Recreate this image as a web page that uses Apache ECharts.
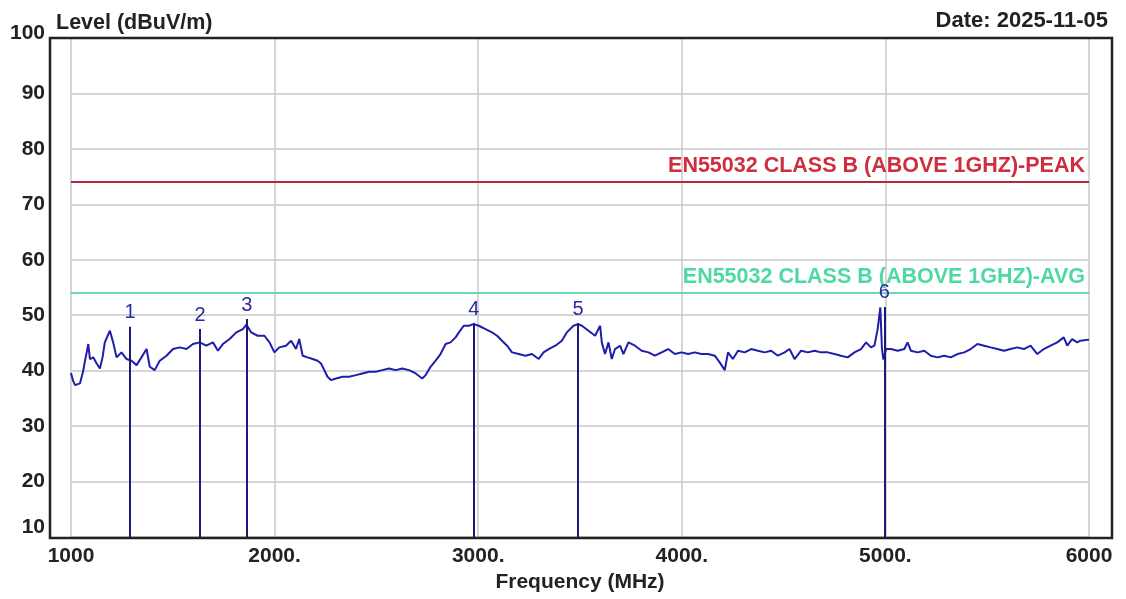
<!DOCTYPE html>
<html>
<head>
<meta charset="utf-8">
<script src="https://cdn.jsdelivr.net/npm/echarts@6/dist/echarts.min.js"></script>
<style>
html,body{margin:0;padding:0;background:#fff;}
#chart{width:1126px;height:599px;}
</style>
</head>
<body>
<div id="chart"></div>
<script>
// ---------- data ----------
const freqMHz = [1000,1010,1020,1044,1059,1069,1085,1093,1109,1126,1142,1155,1166,1191,1207,1224,1248,1273,1297,1322,1346,1371,1387,1411,1436,1469,1501,1534,1567,1599,1632,1665,1697,1722,1746,1779,1812,1844,1862,1885,1917,1950,1975,1999,2023,2056,2081,2105,2121,2138,2162,2187,2211,2228,2244,2260,2277,2301,2334,2366,2399,2431,2464,2497,2529,2562,2595,2627,2660,2693,2725,2742,2766,2791,2815,2840,2864,2889,2905,2929,2954,2978,3003,3036,3068,3093,3117,3142,3166,3199,3232,3264,3297,3321,3346,3379,3411,3435,3468,3490,3509,3542,3574,3599,3607,3623,3640,3656,3672,3697,3713,3738,3770,3803,3836,3868,3901,3933,3966,3999,4031,4064,4096,4129,4162,4186,4211,4227,4251,4276,4309,4341,4374,4407,4439,4472,4505,4529,4554,4586,4619,4652,4684,4717,4750,4782,4815,4848,4880,4905,4929,4946,4962,4975,4983,4990,5003,5027,5060,5093,5109,5125,5158,5191,5223,5256,5289,5321,5354,5387,5419,5452,5485,5517,5550,5582,5615,5648,5680,5713,5746,5778,5811,5844,5876,5893,5917,5942,5958,6000];
const levelDb = [39.6,38.2,37.4,37.7,39.8,41.8,44.8,42.1,42.4,41.3,40.4,42.4,45.1,47.2,45.1,42.4,43.3,42.1,41.8,41.0,42.4,43.9,40.7,40.1,41.8,42.7,43.9,44.2,43.9,44.8,45.1,44.5,45.1,43.6,44.8,45.7,46.9,47.5,48.3,46.9,46.3,46.3,45.1,43.3,44.2,44.5,45.4,43.9,45.7,42.7,42.4,42.1,41.8,41.3,40.1,38.9,38.3,38.6,38.9,38.9,39.2,39.5,39.8,39.8,40.1,40.4,40.1,40.4,40.1,39.5,38.6,39.2,40.7,41.8,43.0,44.8,45.1,46.0,46.9,48.1,48.1,48.4,48.1,47.5,46.9,46.3,45.4,44.5,43.3,43.0,42.7,43.0,42.1,43.3,43.9,44.5,45.4,46.9,48.1,48.4,48.1,47.2,46.3,48.1,45.1,43.0,45.1,42.1,43.9,44.5,43.0,45.1,44.5,43.6,43.3,42.7,43.3,43.9,43.0,43.3,43.0,43.3,43.0,43.0,42.7,41.5,40.1,43.3,42.1,43.6,43.3,43.9,43.6,43.3,43.6,42.7,43.3,43.9,42.1,43.6,43.3,43.6,43.3,43.3,43.0,42.7,42.4,43.3,43.9,45.1,44.2,44.5,47.5,51.4,44.0,42.0,43.9,43.9,43.6,43.9,45.1,43.6,43.3,43.6,42.7,42.4,42.7,42.4,43.0,43.3,43.9,44.8,44.5,44.2,43.9,43.6,43.9,44.2,43.9,44.5,43.0,43.9,44.5,45.1,46.0,44.5,45.7,45.1,45.4,45.6];

const markerFreq = [1290, 1634, 1864, 2979, 3490, 4995];
const markerLevel = [47.9, 47.5, 49.3, 48.6, 48.6, 51.5];
const markerNames = ['1', '2', '3', '4', '5', '6'];

const limitLevels = [74, 54];
const limitNames = ['EN55032 CLASS B (ABOVE 1GHZ)-PEAK', 'EN55032 CLASS B (ABOVE 1GHZ)-AVG'];
const limitLineColors = ['#b3283a', '#6ad9b3'];
const limitTextColors = ['#cf2e3e', '#4fd9a2'];

const xTickValues = [1000, 2000, 3000, 4000, 5000, 6000];
const xTickLabels = ['1000', '2000.', '3000.', '4000.', '5000.', '6000'];
const yTickValues = [10, 20, 30, 40, 50, 60, 70, 80, 90, 100];
const yTickLabels = ['10', '20', '30', '40', '50', '60', '70', '80', '90', '100'];

const yTitle = 'Level (dBuV/m)';
const xTitle = 'Frequency (MHz)';
const dateText = 'Date: 2025-11-05';

// ---------- chart ----------
const FONT = "'Liberation Sans', Arial, sans-serif";
const chart = echarts.init(document.getElementById('chart'), null, {renderer: 'canvas'});

const trace = freqMHz.map((f, i) => [f, levelDb[i]]);

const markerLines = markerFreq.map((f, i) => [
  {coord: [f, 10], symbol: 'none'},
  {coord: [f, markerLevel[i]], symbol: 'none', name: markerNames[i]}
]);

const limitMarks = limitLevels.map((v, i) => ({
  yAxis: v,
  name: limitNames[i],
  lineStyle: {color: limitLineColors[i], width: 2, type: 'solid'},
  label: {
    show: true, position: 'insideEndTop', formatter: limitNames[i],
    color: limitTextColors[i], fontFamily: FONT, fontWeight: 'bold', fontSize: 21.5,
    distance: [4, 5]
  }
}));

const option = {
  animation: false,
  backgroundColor: '#ffffff',
  title: [
    {text: yTitle, left: 51, top: 7,
     textStyle: {fontFamily: FONT, fontWeight: 'bold', fontSize: 21.5, color: '#222'}},
    {text: dateText, right: 13, top: 5,
     textStyle: {fontFamily: FONT, fontWeight: 'bold', fontSize: 22, color: '#222'}}
  ],
  grid: {left: 71, right: 37, top: 38, bottom: 62, containLabel: false, outerBoundsMode: 'none'},
  xAxis: {
    type: 'value', min: 1000, max: 6000, interval: 1000,
    name: xTitle, nameLocation: 'middle', nameGap: 34,
    nameTextStyle: {fontFamily: FONT, fontWeight: 'bold', fontSize: 21, color: '#222'},
    axisLine: {show: false}, axisTick: {show: false},
    axisLabel: {
      margin: 9, fontFamily: FONT, fontWeight: 'bold', fontSize: 21, color: '#222',
      formatter: v => { const k = xTickValues.indexOf(v); return k >= 0 ? xTickLabels[k] : ''; }
    },
    splitLine: {show: true, lineStyle: {color: '#c9c9c9', width: 1.5}}
  },
  yAxis: {
    type: 'value', min: 10, max: 100, interval: 10,
    axisLine: {show: false}, axisTick: {show: false},
    axisLabel: {
      margin: 26, fontFamily: FONT, fontWeight: 'bold', fontSize: 21, color: '#222',
      formatter: v => {
        const k = yTickValues.indexOf(v);
        const t = k >= 0 ? yTickLabels[k] : '';
        if (v === 10) return '{lo|' + t + '}';
        if (v === 100) return '{hi|' + t + '}';
        return t;
      },
      rich: {
        lo: {fontFamily: FONT, fontWeight: 'bold', fontSize: 21, color: '#222', padding: [0, 0, 20, 0]},
        hi: {fontFamily: FONT, fontWeight: 'bold', fontSize: 21, color: '#222', padding: [0, 0, 10, 0]}
      }
    },
    splitLine: {show: true, lineStyle: {color: '#c9c9c9', width: 1.5}}
  },
  series: [
    {
      name: 'limits', type: 'line', data: [], silent: true,
      markLine: {silent: true, symbol: 'none', animation: false, data: limitMarks}
    },
    {
      name: 'trace', type: 'line', data: trace, showSymbol: false, symbol: 'none',
      lineStyle: {color: '#1e1eaa', width: 2}, z: 3
    },
    {
      name: 'markers', type: 'line', data: [], silent: true, z: 4,
      markLine: {
        silent: true, symbol: 'none', animation: false,
        lineStyle: {color: '#1a1a7a', width: 2, type: 'solid'},
        label: {
          show: true, position: 'end', distance: 4,
          formatter: p => p.name,
          color: '#2a2aa0', fontFamily: FONT, fontSize: 20, fontWeight: 'normal'
        },
        data: markerLines
      }
    }
  ],
  graphic: [
    {type: 'rect', z: 100, silent: true,
     shape: {x: 50, y: 38, width: 1062, height: 500},
     style: {fill: 'none', stroke: '#222', lineWidth: 2.5}}
  ]
};
chart.setOption(option);
</script>
</body>
</html>
